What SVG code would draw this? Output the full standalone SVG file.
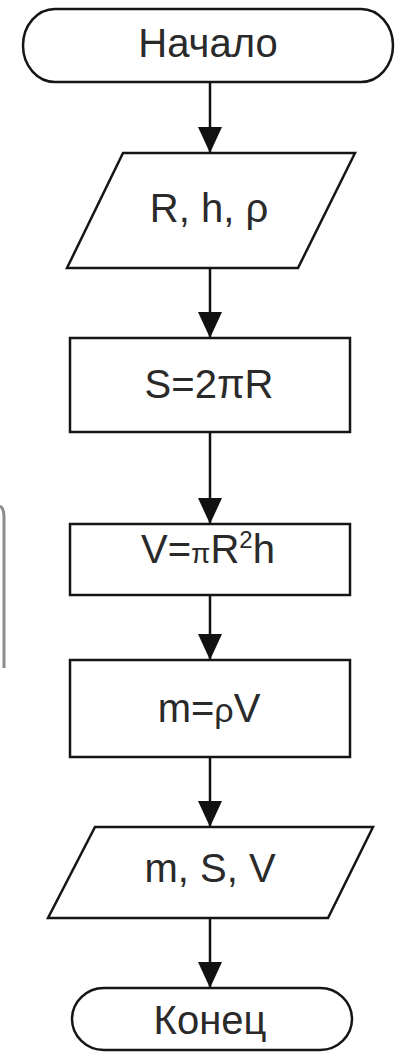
<svg xmlns="http://www.w3.org/2000/svg" width="395" height="1056" viewBox="0 0 395 1056">
  <style>
    .shape { fill: #ffffff; stroke: #151515; stroke-width: 2.5; }
    .label { font-family: "Liberation Sans", Arial, sans-serif; font-size: 40px; fill: #2a2a2a; text-anchor: middle; }
    .flow { stroke: #111111; stroke-width: 2.5; fill: none; marker-end: url(#arrow); }
  </style>
  <defs>
    <marker id="arrow" markerUnits="userSpaceOnUse" viewBox="0 -12 26 24" refX="26" refY="0" markerWidth="26" markerHeight="24" orient="auto">
      <path d="M0,-12 L26,0 L0,12 Z" fill="#111111"/>
    </marker>
  </defs>

  <rect width="395" height="1056" fill="#ffffff"/>

  <!-- edge fragment on the left margin -->
  <path d="M0,506 Q4,508 4,518 L4,668" fill="none" stroke="#8c8c8c" stroke-width="3"/>

  <g id="connectors">
    <line class="flow" x1="210" y1="82" x2="210" y2="153"/>
    <line class="flow" x1="210" y1="268" x2="210" y2="338"/>
    <line class="flow" x1="210" y1="432" x2="210" y2="524"/>
    <line class="flow" x1="210" y1="595" x2="210" y2="660"/>
    <line class="flow" x1="210" y1="757" x2="210" y2="827"/>
    <line class="flow" x1="210" y1="918" x2="210" y2="988"/>
  </g>

  <g id="start">
    <path class="shape" d="M55,9 L361,9 A32,36.5 0 0 1 361,82 L55,82 A32,36.5 0 0 1 55,9 Z"/>
    <text class="label" x="208" y="57">Начало</text>
  </g>

  <g id="input">
    <polygon class="shape" points="123,153 355,153 298,268 67,268"/>
    <text class="label" x="209" y="222">R, h, ρ</text>
  </g>

  <g id="calc-s">
    <rect class="shape" x="70" y="338" width="280" height="94"/>
    <text class="label" x="209" y="398">S=2πR</text>
  </g>

  <g id="calc-v">
    <rect class="shape" x="70" y="524" width="280" height="71"/>
    <text class="label" x="208" y="563">V=<tspan font-size="28">π</tspan>R<tspan font-size="24" dy="-15">2</tspan><tspan dy="15">h</tspan></text>
  </g>

  <g id="calc-m">
    <rect class="shape" x="70" y="660" width="280" height="97"/>
    <text class="label" x="209" y="722">m=<tspan font-size="34">ρ</tspan>V</text>
  </g>

  <g id="output">
    <polygon class="shape" points="95,827 373,827 328,918 48,918"/>
    <text class="label" x="210" y="882">m, S, V</text>
  </g>

  <g id="end">
    <path class="shape" d="M104,988 L320,988 A32,31 0 0 1 320,1050 L104,1050 A32,31 0 0 1 104,988 Z"/>
    <text class="label" x="210" y="1034">Конец</text>
  </g>
</svg>
